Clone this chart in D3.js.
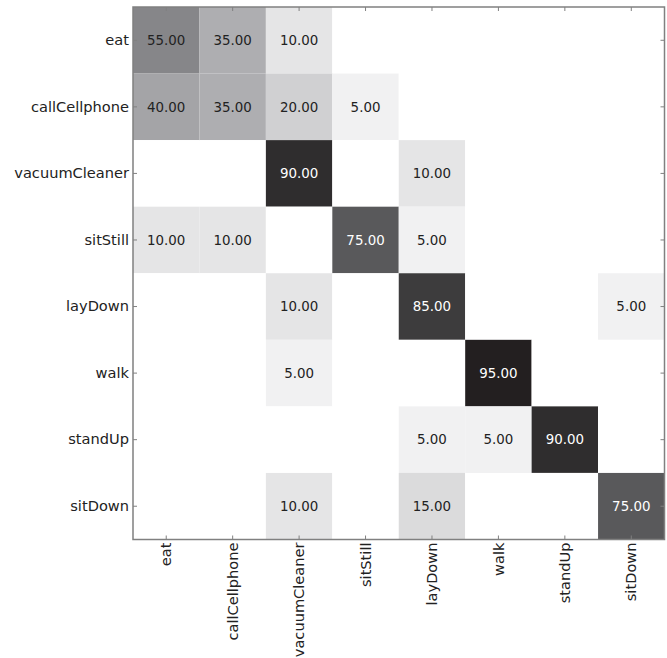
<!DOCTYPE html>
<html>
<head>
<meta charset="utf-8">
<script src="https://cdn.jsdelivr.net/npm/d3@7"></script>
<style>
  html, body { margin: 0; padding: 0; background: #ffffff; }
  svg { display: block; font-family: "DejaVu Sans", sans-serif; }
</style>
</head>
<body>
<svg id="chart" width="667" height="658"></svg>
<script>
// Activity classes (rows = actual, columns = predicted)
const classes = ["eat", "callCellphone", "vacuumCleaner", "sitStill", "layDown", "walk", "standUp", "sitDown"];

// Per-row percentages of the confusion matrix
const eat           = [55, 35, 10, 0, 0, 0, 0, 0];
const callCellphone = [40, 35, 20, 5, 0, 0, 0, 0];
const vacuumCleaner = [0, 0, 90, 0, 10, 0, 0, 0];
const sitStill      = [10, 10, 0, 75, 5, 0, 0, 0];
const layDown       = [0, 0, 10, 0, 85, 0, 0, 5];
const walk          = [0, 0, 5, 0, 0, 95, 0, 0];
const standUp       = [0, 0, 0, 0, 5, 5, 90, 0];
const sitDown       = [0, 0, 10, 0, 15, 0, 0, 75];

const rows = [eat, callCellphone, vacuumCleaner, sitStill, layDown, walk, standUp, sitDown];

const cells = [];
rows.forEach((r, i) => r.forEach((v, j) => cells.push({ row: classes[i], col: classes[j], value: v })));

const margin = { left: 133, top: 7, right: 2.5, bottom: 118.5 };
const W = 667, H = 658;
const plotW = W - margin.left - margin.right;
const plotH = H - margin.top - margin.bottom;

const svg = d3.select("#chart");
const g = svg.append("g").attr("transform", `translate(${margin.left},${margin.top})`);

const x = d3.scaleBand().domain(classes).range([0, plotW]);
const y = d3.scaleBand().domain(classes).range([0, plotH]);

// grey colour map over 0..100 percent
const color = d3.scaleLinear()
  .domain([0, 5, 10, 20, 35, 55, 75, 90, 95, 100])
  .range(["#ffffff", "#f1f1f2", "#e5e5e6", "#d0d0d2", "#aeaeb1", "#868689", "#59595b", "#2f2d2e", "#231f20", "#1a1718"])
  .clamp(true);

g.selectAll("rect.cell")
  .data(cells)
  .join("rect")
  .attr("class", "cell")
  .attr("x", d => x(d.col))
  .attr("y", d => y(d.row))
  .attr("width", x.bandwidth())
  .attr("height", y.bandwidth())
  .attr("fill", d => color(d.value));

g.selectAll("text.val")
  .data(cells.filter(d => d.value > 0))
  .join("text")
  .attr("class", "val")
  .attr("x", d => x(d.col) + x.bandwidth() / 2)
  .attr("y", d => y(d.row) + y.bandwidth() / 2)
  .attr("dy", "0.35em")
  .attr("text-anchor", "middle")
  .attr("font-size", 13.4)
  .attr("fill", d => d.value >= 70 ? "#ffffff" : "#222222")
  .text(d => d.value.toFixed(2));

// axes with inward ticks
const tickLen = 4;
const axisColor = "#808080";

function styleAxis(sel) {
  sel.select(".domain").remove();
  sel.selectAll(".tick line").attr("stroke", axisColor).attr("stroke-width", 1);
}

const leftAxis = g.append("g").call(d3.axisLeft(y).tickSizeInner(-tickLen).tickSizeOuter(0).tickPadding(4));
styleAxis(leftAxis);
leftAxis.selectAll(".tick text").attr("font-size", 14.6).attr("fill", "#222222").attr("font-family", "DejaVu Sans, sans-serif");

const bottomAxis = g.append("g").attr("transform", `translate(0,${plotH})`)
  .call(d3.axisBottom(x).tickSizeInner(-tickLen).tickSizeOuter(0));
styleAxis(bottomAxis);
bottomAxis.selectAll(".tick text")
  .attr("font-size", 14.6).attr("fill", "#222222").attr("font-family", "DejaVu Sans, sans-serif")
  .attr("transform", "rotate(-90)")
  .attr("text-anchor", "end")
  .attr("x", -3)
  .attr("y", 0)
  .attr("dy", "0.35em");

const topAxis = g.append("g").call(d3.axisTop(x).tickSizeInner(-tickLen).tickSizeOuter(0).tickFormat(""));
styleAxis(topAxis);

const rightAxis = g.append("g").attr("transform", `translate(${plotW},0)`)
  .call(d3.axisRight(y).tickSizeInner(-tickLen).tickSizeOuter(0).tickFormat(""));
styleAxis(rightAxis);

// frame
g.append("rect")
  .attr("x", 0).attr("y", 0)
  .attr("width", plotW).attr("height", plotH)
  .attr("fill", "none")
  .attr("stroke", axisColor)
  .attr("stroke-width", 1.5);
</script>
</body>
</html>
